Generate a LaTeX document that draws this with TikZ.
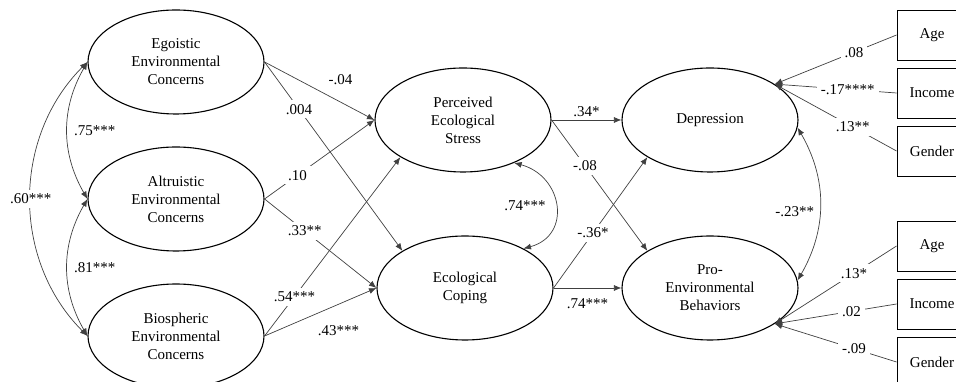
\documentclass[tikz,border=0pt]{standalone}
\usepackage{fontspec}
\setmainfont{Liberation Serif}
\usetikzlibrary{arrows.meta,positioning,shapes}

\begin{document}
\begin{tikzpicture}[x=1pt,y=1pt,
            every node/.style={font=\fontsize{15}{18}\selectfont},
            latent/.style={draw,ellipse,line width=1.1pt,minimum width=176pt,minimum height=104pt,inner sep=0pt,align=center},
            ctrl/.style={draw,rectangle,line width=.9pt,minimum width=70pt,minimum height=50pt,node distance=58pt},
            coef/.style={fill=white,inner sep=4pt},
            link/.style={draw=black!75,line width=.7pt,->},
            cov/.style={link,<->},
            >={Latex[length=7.5pt,width=6pt]}
          ]
          \useasboundingbox (0,0) rectangle (956,382);

          %predictors
          \node[latent] (ego) at (176,320) {Egoistic\\Environmental\\Concerns};
          \node[latent] (alt) at (176,183) {Altruistic\\Environmental\\Concerns};
          \node[latent] (bio) at (176,46) {Biospheric\\Environmental\\Concerns};

          %mediators
          \node[latent] (pes) at (463,262) {Perceived\\Ecological\\Stress};
          \node[latent] (cop) at (465,94) {Ecological\\Coping};

          %outcomes
          \node[latent] (dep) at (710,262) {Depression};
          \node[latent] (pro) at (710,94) {Pro-\\Environmental\\Behaviors};

          %controls
          \node[ctrl] (age1) at (932,347) {Age};
          \node[below of = age1,ctrl] (inc1) {Income};
          \node[below of = inc1,ctrl] (gen1) {Gender};
          \node[ctrl] (age2) at (932,136) {Age};
          \node[below of = age2,ctrl] (inc2) {Income};
          \node[below of = inc2,ctrl] (gen2) {Gender};

          %covariances
          \path
          (ego.west) edge[cov,out=-120,in=120] node[pos=.5,right=3pt] {.75***} (alt.west)
          (alt.west) edge[cov,out=-120,in=120] node[pos=.5,right=3pt] {.81***} (bio.west)
          (ego.west) edge[cov,out=-135,in=135] node[coef,pos=.5] {.60***} (bio.west)
          (pes.-40) edge[cov,out=-15,in=15,looseness=1.5] node[pos=.5,left=6pt] {.74***} (cop.34)
          (dep.-5) edge[cov,out=-60,in=60] node[pos=.55,left=2pt] {-.23**} (pro.5)
          ;

          %paths
          \path
          (ego.east) edge[link] node[pos=.69,above=14pt] {-.04} (pes.west)
          (ego.east) edge[link] node[coef,pos=.25] {.004} (cop.north west)
          (alt.east) edge[link] node[coef,pos=.3] {.10} (pes.west)
          (alt.east) edge[link] node[coef,pos=.36] {.33**} (cop.west)
          (bio.east) edge[link] node[coef,pos=.22] {.54***} (pes.south west)
          (bio.east) edge[link] node[pos=.66,below=18pt] {.43***} (cop.west)
          (pes.east) edge[link] node[pos=.5,above] {.34*} (dep.west)
          (pes.east) edge[link] node[coef,pos=.35] {-.08} (pro.north west)
          (cop.east) edge[link] node[coef,pos=.42] {-.36*} (dep.south west)
          (cop.east) edge[link] node[pos=.5,below=7pt] {.74***} (pro.west)
          ;

          %control paths
          \path
          (age1.west) edge[link] node[coef,pos=.35] {.08} (dep.29)
          (inc1.west) edge[link] node[coef,pos=.4] {-.17****} (dep.29)
          (gen1.west) edge[link] node[coef,pos=.36] {.13**} (dep.29)
          (age2.west) edge[link] node[coef,pos=.35] {.13*} (pro.-29)
          (inc2.west) edge[link] node[coef,pos=.37] {.02} (pro.-29)
          (gen2.west) edge[link] node[coef,pos=.35] {-.09} (pro.-29)
          ;

      \end{tikzpicture}
\end{document}
